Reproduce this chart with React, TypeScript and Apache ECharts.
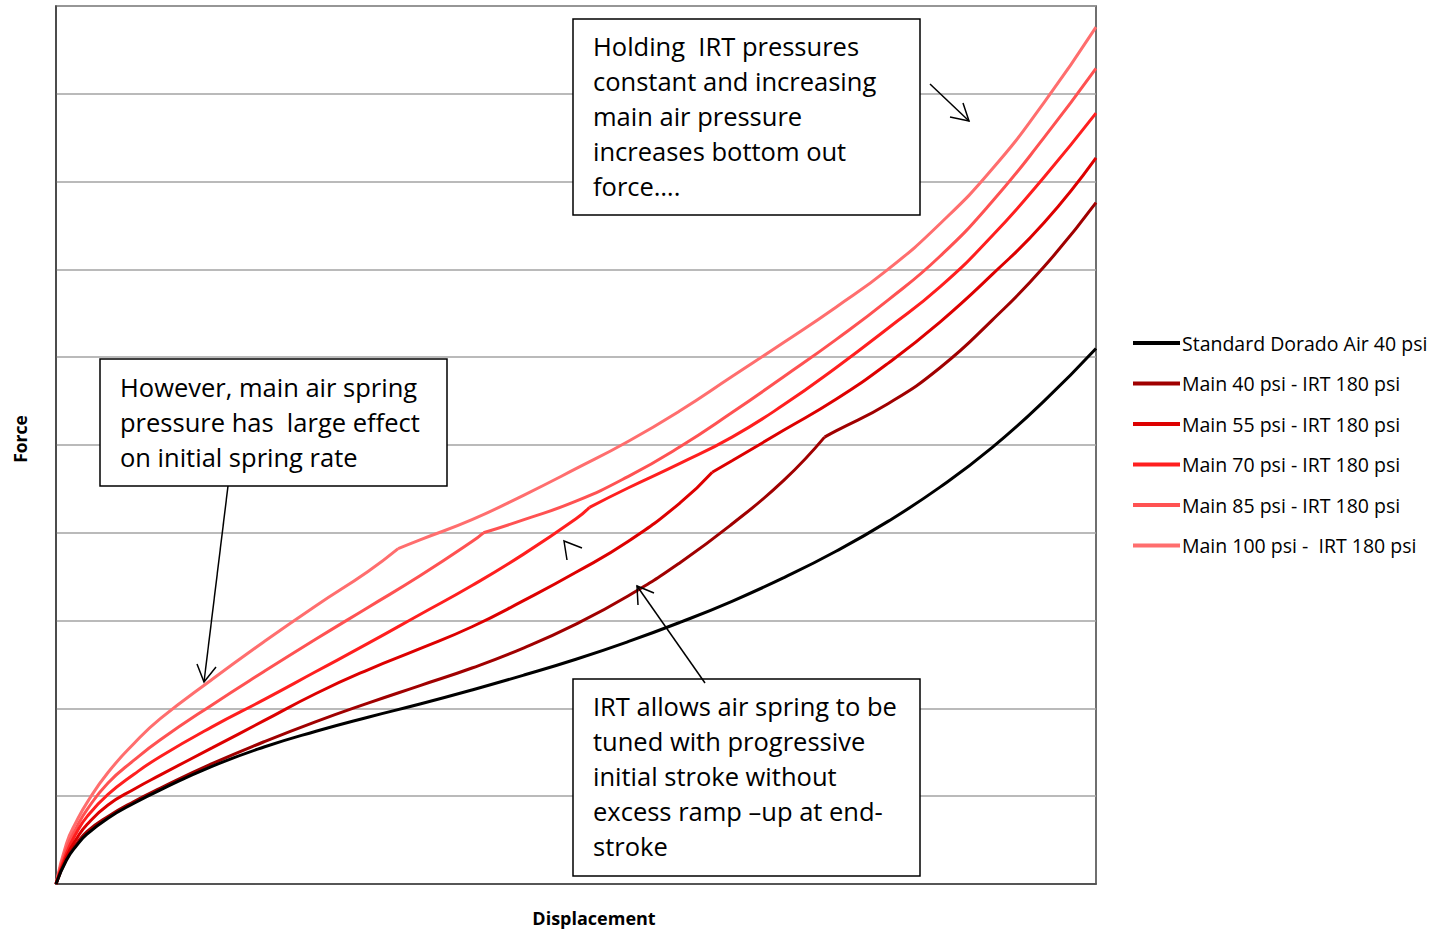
import React, { useEffect, useRef } from "react";
import * as echarts from "echarts";

const xs = [0, 1, 2, 3, 5, 7.5, 10, 15, 20, 25, 30, 35, 40, 45, 50, 55, 60, 65, 70, 75, 80, 85, 90, 95, 100];

const seriesNames = [
  "Standard Dorado Air 40 psi",
  "Main 40 psi - IRT 180 psi",
  "Main 55 psi - IRT 180 psi",
  "Main 70 psi - IRT 180 psi",
  "Main 85 psi - IRT 180 psi",
  "Main 100 psi -  IRT 180 psi",
];

const standard40 = [0, 0.27, 0.44, 0.57, 0.75, 0.92, 1.07, 1.34, 1.56, 1.74, 1.9, 2.05, 2.21, 2.38, 2.56, 2.76, 2.98, 3.22, 3.49, 3.79, 4.13, 4.52, 4.97, 5.5, 6.1];
const main40 = [0, 0.28, 0.46, 0.6, 0.77, 0.94, 1.09, 1.37, 1.62, 1.85, 2.06, 2.26, 2.46, 2.69, 2.96, 3.28, 3.66, 4.1, 4.6, 5.16, 5.47, 5.88, 6.42, 7.03, 7.76];
const main55 = [0, 0.31, 0.52, 0.68, 0.9, 1.08, 1.24, 1.55, 1.86, 2.17, 2.44, 2.68, 2.93, 3.23, 3.55, 3.9, 4.34, 4.82, 5.17, 5.52, 5.93, 6.4, 6.94, 7.53, 8.27];
const main70 = [0, 0.35, 0.59, 0.77, 1.02, 1.25, 1.45, 1.79, 2.1, 2.42, 2.74, 3.07, 3.4, 3.76, 4.16, 4.51, 4.79, 5.09, 5.46, 5.88, 6.33, 6.8, 7.38, 8.05, 8.78];
const main85 = [0, 0.4, 0.65, 0.85, 1.15, 1.41, 1.64, 2.04, 2.42, 2.79, 3.15, 3.51, 3.9, 4.15, 4.36, 4.64, 4.98, 5.37, 5.78, 6.2, 6.65, 7.15, 7.77, 8.5, 9.29];
const main100 = [0, 0.46, 0.72, 0.93, 1.27, 1.6, 1.88, 2.33, 2.76, 3.17, 3.56, 3.92, 4.15, 4.43, 4.73, 5.04, 5.39, 5.78, 6.17, 6.57, 7.0, 7.52, 8.14, 8.9, 9.76];

// transition (kink) points where the IRT chamber engages: [displacement, force]
const kink40 = [73.9, 5.09];
const kink55 = [63.1, 4.69];
const kink70 = [51.3, 4.29];
const kink85 = [41.1, 4.0];
const kink100 = [32.9, 3.82];

const seriesValues = [standard40, main40, main55, main70, main85, main100];
const seriesKinks: (number[] | null)[] = [null, kink40, kink55, kink70, kink85, kink100];
const seriesColors = ["#000000", "#a00000", "#dd0000", "#ff1f1f", "#ff5252", "#ff6e6e"];

const yTicks = [0, 1, 2, 3, 4, 5, 6, 7, 8, 9, 10];

// split a curve at its kink so each side is smoothed separately and the kink stays sharp
function buildSegments(values: number[], kink: number[] | null): number[][][] {
  const pts = xs.map((x, i) => [x, values[i]]);
  if (!kink) return [pts];
  const before = pts.filter((p) => p[0] < kink[0]);
  const after = pts.filter((p) => p[0] > kink[0]);
  return [[...before, [kink[0], kink[1]]], [[kink[0], kink[1]], ...after]];
}

const FONT = "'Open Sans', Lato, sans-serif";

function box(x: number, y: number, w: number, h: number, text: string, textTop: number) {
  return [
    {
      type: "rect",
      shape: { x, y, width: w, height: h },
      style: { fill: "#ffffff", stroke: "#000000", lineWidth: 1.5 },
      z: 100,
    },
    {
      type: "text",
      x: x + 20,
      y: textTop,
      style: {
        text,
        fill: "#000000",
        font: `25.5px ${FONT}`,
        lineHeight: 35,
        verticalAlign: "top",
        align: "left",
      },
      z: 101,
    },
  ];
}

function arrow(x1: number, y1: number, x2: number, y2: number, head: number[][]) {
  return [
    { type: "line", shape: { x1, y1, x2, y2 }, style: { stroke: "#000", lineWidth: 1.5 }, z: 102 },
    { type: "polyline", shape: { points: head }, style: { stroke: "#000", lineWidth: 1.5, fill: null }, z: 102 },
  ];
}

export default function App() {
  const ref = useRef<HTMLDivElement>(null);
  useEffect(() => {
    if (!ref.current) return;
    const chart = echarts.init(ref.current, undefined, { renderer: "svg" });
    const series: any[] = [];
    seriesNames.forEach((name, i) => {
      buildSegments(seriesValues[i], seriesKinks[i]).forEach((seg) => {
        series.push({
          name,
          type: "line",
          data: seg,
          smooth: 0.5,
          showSymbol: false,
          symbol: "none",
          lineStyle: { color: seriesColors[i], width: 3 },
          itemStyle: { color: seriesColors[i] },
          z: 2 + (seriesNames.length - i),
        });
      });
    });
    const option: any = {
      animation: false,
      backgroundColor: "#ffffff",
      grid: {
        left: 56,
        right: 336,
        top: 6,
        bottom: 46,
        show: true,
        borderColor: "#404040",
        borderWidth: 1.5,
        backgroundColor: "transparent",
      },
      legend: {
        orient: "vertical",
        left: 1133,
        top: 333,
        padding: 0,
        itemWidth: 47,
        itemHeight: 4,
        itemGap: 20.5,
        icon: "rect",
        textStyle: { fontFamily: FONT, fontSize: 19.5, color: "#000", lineHeight: 20, padding: [0, 0, 0, -3] },
        data: seriesNames,
      },
      xAxis: {
        type: "value",
        min: 0,
        max: 100,
        axisLabel: { show: false },
        axisTick: { show: false },
        splitLine: { show: false },
        axisLine: { show: true, lineStyle: { color: "#404040", width: 1.5 } },
      },
      yAxis: {
        type: "value",
        min: yTicks[0],
        max: yTicks[yTicks.length - 1],
        interval: 1,
        axisLabel: { show: false },
        axisTick: { show: false },
        axisLine: { show: true, lineStyle: { color: "#404040", width: 1.5 } },
        splitLine: { show: true, lineStyle: { color: "#a3a3a3", width: 1.5 } },
      },
      series,
      graphic: [
        {
          type: "text",
          x: 20,
          y: 439,
          rotation: Math.PI / 2,
          style: { text: "Force", font: `bold 17.5px ${FONT}`, fill: "#000", align: "center", verticalAlign: "middle" },
        },
        {
          type: "text",
          x: 594,
          y: 918,
          style: { text: "Displacement", font: `bold 18px ${FONT}`, fill: "#000", align: "center", verticalAlign: "middle" },
        },
        ...box(573, 19, 347, 196, "Holding  IRT pressures\nconstant and increasing\nmain air pressure\nincreases bottom out\nforce….", 28),
        ...box(100, 359, 347, 127, "However, main air spring\npressure has  large effect\non initial spring rate", 369),
        ...box(573, 679, 347, 197, "IRT allows air spring to be\ntuned with progressive\ninitial stroke without\nexcess ramp –up at end-\nstroke", 688),
        ...arrow(228, 486, 204, 682, [[197, 664], [204, 682], [216, 667]]),
        ...arrow(705, 683, 637, 586, [[638, 605], [637, 586], [654, 593]]),
        ...arrow(930, 84, 969, 121, [[950, 117], [969, 121], [963, 103]]),
        {
          type: "polyline",
          shape: { points: [[567, 560], [564, 541], [582, 548]] },
          style: { stroke: "#000", lineWidth: 1.5, fill: null },
          z: 102,
        },
      ],
    };
    chart.setOption(option);
    return () => chart.dispose();
  }, []);
  return <div ref={ref} style={{ width: 1432, height: 930, position: "absolute", left: 0, top: 0 }} />;
}
